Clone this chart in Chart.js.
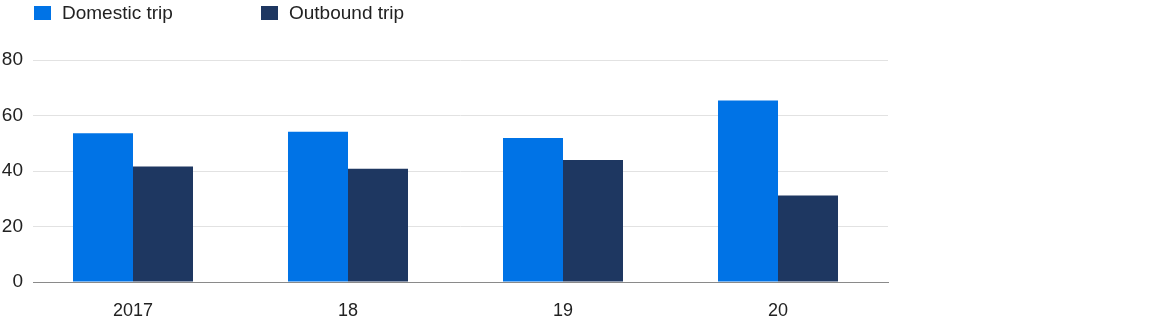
<!DOCTYPE html>
<html>
<head>
<meta charset="utf-8">
<script src="https://cdn.jsdelivr.net/npm/chart.js@4.4.0/dist/chart.umd.min.js"></script>
<style>
    body { margin: 0; background: #fff; }
    #wrap { position: relative; width: 1172px; height: 320px; }
    #legend { position: absolute; left: 0; top: 0; font: 19px "Liberation Sans", Arial, sans-serif; color: #222; }
    .item { position: absolute; top: 0; height: 26px; white-space: nowrap; }
    .box { position: absolute; left: 0; top: 6px; width: 17px; height: 14px; }
    .label { position: absolute; left: 28px; top: 3px; line-height: 20px; }
</style>
</head>
<body>
<div id="wrap">
    <canvas id="myChart" width="1172" height="320"></canvas>
    <div id="legend"></div>
</div>
<script>
const categories = ["2017", "18", "19", "20"]
const domesticTrip = [53.6, 54.1, 51.9, 65.4]
const outboundTrip = [41.6, 40.8, 44.0, 31.2]
const seriesNames = ["Domestic trip", "Outbound trip"]
const colors = ["#0073E6", "#1E3761"]

const datasets = [domesticTrip, outboundTrip].map((values, i) => ({
    label: seriesNames[i],
    data: values.map((v, j) => ({ x: j, y: v })),
    backgroundColor: colors[i],
    borderWidth: 0,
    categoryPercentage: 120 / 215,
    barPercentage: 1
}))

const labelColor = "#222"
const baseFont = "'Liberation Sans', Arial, sans-serif"

const options = {
    responsive: false,
    animation: false,
    layout: {
        padding: { top: 60, right: 284, bottom: 0, left: 0 }
    },
    plugins: {
        legend: { display: false },
        tooltip: { enabled: false }
    },
    scales: {
        x: {
            type: "linear",
            min: -0.4651,
            max: 3.5116,
            offset: false,
            grid: { display: false, drawTicks: false },
            border: { display: true, color: "#8a8a8a", width: 1 },
            ticks: {
                stepSize: 1,
                includeBounds: false,
                autoSkip: false,
                maxRotation: 0,
                padding: 18,
                color: labelColor,
                font: { family: baseFont, size: 18 },
                callback: value => categories[value] ?? ""
            },
            afterFit: scale => { scale.height = 38 }
        },
        y: {
            min: 0,
            max: 80,
            grid: { color: "#e2e2e2", lineWidth: 1, drawTicks: false },
            border: { display: false },
            ticks: {
                stepSize: 20,
                padding: 10,
                color: labelColor,
                font: { family: baseFont, size: 19 }
            },
            afterFit: scale => { scale.width = 33 }
        }
    }
}

const ctx = document.getElementById("myChart").getContext("2d")
const chart = new Chart(ctx, { type: "bar", data: { datasets: datasets }, options: options })

// html legend, real text
const legend = document.getElementById("legend")
const legendLefts = [34, 261]
chart.data.datasets.forEach((ds, i) => {
    const item = document.createElement("div")
    item.className = "item"
    item.style.left = legendLefts[i] + "px"
    const box = document.createElement("div")
    box.className = "box"
    box.style.background = ds.backgroundColor
    const label = document.createElement("div")
    label.className = "label"
    label.textContent = ds.label
    item.appendChild(box)
    item.appendChild(label)
    legend.appendChild(item)
})
</script>
</body>
</html>
